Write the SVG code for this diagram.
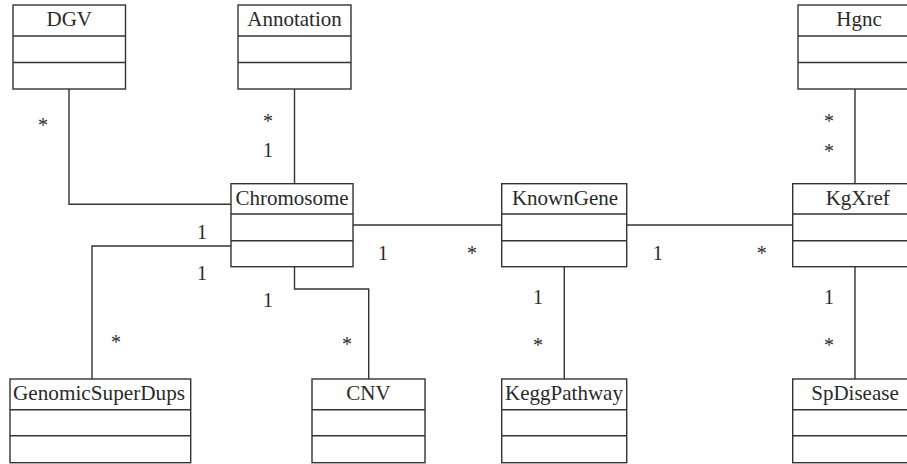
<svg xmlns="http://www.w3.org/2000/svg" width="907" height="464" viewBox="0 0 907 464">
<style>
.box{fill:#fff;stroke:#333;stroke-width:1.4}
.div{stroke:#333;stroke-width:1.4}
.name{font-family:"Liberation Serif","Times New Roman",serif;font-size:21px;fill:#2a2a2a;text-anchor:middle}
.lbl{font-family:"Liberation Serif","Times New Roman",serif;font-size:20px;fill:#2a2a2a;text-anchor:middle}
.con{fill:none;stroke:#333;stroke-width:1.4}
</style>
<rect width="907" height="464" fill="#fff"/>
<g id="connectors">
<polyline class="con" points="69,89 69,204.3 231,204.3"/>
<line class="con" x1="294.5" y1="89" x2="294.5" y2="183.7"/>
<polyline class="con" points="231,246 92,246 92,379"/>
<polyline class="con" points="294.5,266.7 294.5,289 368.7,289 368.7,379"/>
<line class="con" x1="353" y1="225" x2="501.7" y2="225"/>
<line class="con" x1="626.7" y1="225" x2="792.7" y2="225"/>
<line class="con" x1="564.3" y1="266.7" x2="564.3" y2="379"/>
<line class="con" x1="855" y1="89" x2="855" y2="183.7"/>
<line class="con" x1="855" y1="266.7" x2="855" y2="379"/>
</g>
<g id="labels">
<text class="lbl" x="43" y="131.5">*</text>
<text class="lbl" x="268" y="127.5">*</text>
<text class="lbl" x="268" y="157">1</text>
<text class="lbl" x="829" y="127.5">*</text>
<text class="lbl" x="829" y="157.5">*</text>
<text class="lbl" x="202" y="239">1</text>
<text class="lbl" x="202" y="280">1</text>
<text class="lbl" x="383" y="260">1</text>
<text class="lbl" x="472" y="260">*</text>
<text class="lbl" x="657.7" y="260">1</text>
<text class="lbl" x="761.7" y="260">*</text>
<text class="lbl" x="268" y="307">1</text>
<text class="lbl" x="116" y="348.5">*</text>
<text class="lbl" x="347" y="351">*</text>
<text class="lbl" x="538" y="304">1</text>
<text class="lbl" x="538" y="352">*</text>
<text class="lbl" x="829" y="304">1</text>
<text class="lbl" x="829" y="352">*</text>
</g>
<g id="DGV">
<rect class="box" x="13" y="5" width="112.5" height="84"/>
<line class="div" x1="13" y1="36" x2="125.5" y2="36"/>
<line class="div" x1="13" y1="62.5" x2="125.5" y2="62.5"/>
<text class="name" x="69.25" y="26">DGV</text>
</g>
<g id="Annotation">
<rect class="box" x="238" y="5" width="113" height="84"/>
<line class="div" x1="238" y1="36" x2="351" y2="36"/>
<line class="div" x1="238" y1="62.5" x2="351" y2="62.5"/>
<text class="name" x="294.5" y="26">Annotation</text>
</g>
<g id="Hgnc">
<rect class="box" x="798" y="5" width="122" height="84"/>
<line class="div" x1="798" y1="36" x2="920" y2="36"/>
<line class="div" x1="798" y1="62.5" x2="920" y2="62.5"/>
<text class="name" x="859" y="26">Hgnc</text>
</g>
<g id="Chromosome">
<rect class="box" x="231" y="183.7" width="122" height="83"/>
<line class="div" x1="231" y1="214" x2="353" y2="214"/>
<line class="div" x1="231" y1="240.7" x2="353" y2="240.7"/>
<text class="name" x="292" y="205">Chromosome</text>
</g>
<g id="KnownGene">
<rect class="box" x="501.7" y="183.7" width="125" height="83"/>
<line class="div" x1="501.7" y1="214" x2="626.7" y2="214"/>
<line class="div" x1="501.7" y1="240.7" x2="626.7" y2="240.7"/>
<text class="name" x="565" y="205">KnownGene</text>
</g>
<g id="KgXref">
<rect class="box" x="792.7" y="183.7" width="130" height="83"/>
<line class="div" x1="792.7" y1="214" x2="922" y2="214"/>
<line class="div" x1="792.7" y1="240.7" x2="922" y2="240.7"/>
<text class="name" x="857.7" y="205">KgXref</text>
</g>
<g id="GenomicSuperDups">
<rect class="box" x="10" y="379" width="180.7" height="83.7"/>
<line class="div" x1="10" y1="409.7" x2="190.7" y2="409.7"/>
<line class="div" x1="10" y1="435.7" x2="190.7" y2="435.7"/>
<text class="name" x="99" y="400" textLength="172" lengthAdjust="spacingAndGlyphs">GenomicSuperDups</text>
</g>
<g id="CNV">
<rect class="box" x="312" y="379" width="113" height="83.7"/>
<line class="div" x1="312" y1="409.7" x2="425" y2="409.7"/>
<line class="div" x1="312" y1="435.7" x2="425" y2="435.7"/>
<text class="name" x="368.5" y="400">CNV</text>
</g>
<g id="KeggPathway">
<rect class="box" x="501.7" y="379" width="125" height="83.7"/>
<line class="div" x1="501.7" y1="409.7" x2="626.7" y2="409.7"/>
<line class="div" x1="501.7" y1="435.7" x2="626.7" y2="435.7"/>
<text class="name" x="564" y="400">KeggPathway</text>
</g>
<g id="SpDisease">
<rect class="box" x="792.7" y="379" width="130" height="83.7"/>
<line class="div" x1="792.7" y1="409.7" x2="922" y2="409.7"/>
<line class="div" x1="792.7" y1="435.7" x2="922" y2="435.7"/>
<text class="name" x="855" y="400">SpDisease</text>
</g>
</svg>
